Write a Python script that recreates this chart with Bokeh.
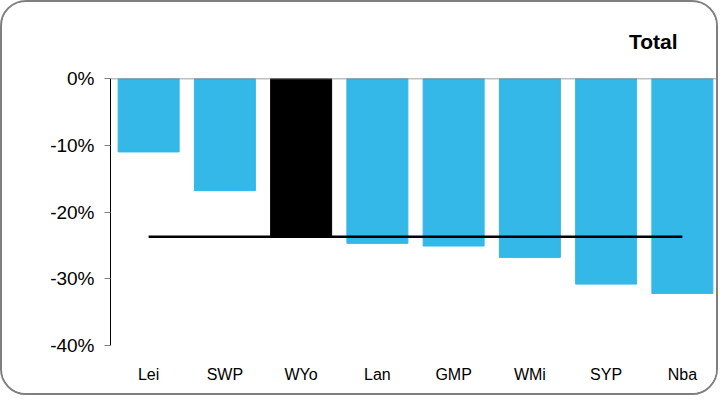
from bokeh.plotting import figure
from bokeh.models import FactorRange, Range1d, FixedTicker, PrintfTickFormatter, ColumnDataSource, Span
from bokeh.embed import file_html
from bokeh.resources import INLINE

categories = ["Lei", "SWP", "WYo", "Lan", "GMP", "WMi", "SYP", "Nba"]
values = [-11.0, -16.8, -23.7, -24.7, -25.1, -26.8, -30.8, -32.2]
highlight = "WYo"
average = -23.7
y_ticks = [0, -10, -20, -30, -40]
title_text = "Total"

BLUE = "#33B8E8"
colors = ["#000000" if c == highlight else BLUE for c in categories]
src = ColumnDataSource(dict(x=categories, top=[0] * len(values), bottom=values, color=colors))

p = figure(width=718, height=395, output_backend="svg", toolbar_location=None,
           x_range=FactorRange(*categories, range_padding=0), y_range=Range1d(-40, 0),
           min_border_left=108, min_border_top=76, min_border_bottom=52, min_border_right=0,
           background_fill_color="white", border_fill_color="white")
p.styles = {"border": "2px solid #7f7f7f", "border-radius": "26px", "overflow": "hidden"}
p.outline_line_color = None
p.xgrid.grid_line_color = None
p.ygrid.grid_line_color = None

p.title.text = title_text
p.title.align = "right"
p.title.offset = 43
p.title.standoff = 51
p.title.text_font = "Liberation Sans"
p.title.text_font_style = "bold"
p.title.text_font_size = "21px"
p.title.text_color = "black"

p.vbar(x="x", top="top", bottom="bottom", width=0.8, color="color", source=src)
p.add_layout(Span(location=0, dimension="width", line_color="#808080", line_width=1.5))
p.line(x=[categories[0], categories[-1]], y=[average, average], line_color="black", line_width=2.5)

yax = p.yaxis[0]
yax.ticker = FixedTicker(ticks=y_ticks)
yax.formatter = PrintfTickFormatter(format="%d%%")
yax.axis_line_color = "black"
yax.axis_line_width = 1
yax.major_tick_line_color = "#808080"
yax.major_tick_out = 6
yax.major_tick_in = 0
yax.minor_tick_line_color = None
yax.major_label_text_font = "Liberation Sans"
yax.major_label_text_font_size = "19px"
yax.major_label_text_color = "black"
yax.major_label_standoff = 10

xax = p.xaxis[0]
xax.axis_line_color = None
xax.major_tick_line_color = None
xax.minor_tick_line_color = None
xax.major_label_text_font = "Liberation Sans"
xax.major_label_text_font_size = "16px"
xax.major_label_text_color = "black"
xax.major_label_standoff = 14

open("out.html", "w").write(file_html(p, INLINE))
